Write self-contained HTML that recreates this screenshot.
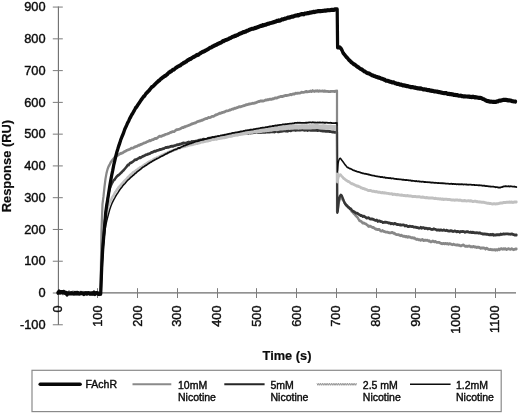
<!DOCTYPE html>
<html><head><meta charset="utf-8"><title>Chart</title>
<style>html,body{margin:0;padding:0;background:#fff}body{width:520px;height:415px;position:relative;overflow:hidden}svg text{font-family:"Liberation Sans",sans-serif}</style></head>
<body>
<svg width="520" height="415" viewBox="0 0 520 415" style="position:absolute;left:0;top:0">
<g stroke="#6c6c6c" stroke-width="1.1" fill="none">
<line x1="58.4" y1="6.5" x2="58.4" y2="325"/>
<line x1="57.8" y1="292.85" x2="516" y2="292.85"/>
</g>
<g stroke="#7c7c7c" stroke-width="1" fill="none">
<line x1="52.8" y1="324.77" x2="62.8" y2="324.77"/>
<line x1="52.8" y1="293.00" x2="62.8" y2="293.00"/>
<line x1="52.8" y1="261.23" x2="62.8" y2="261.23"/>
<line x1="52.8" y1="229.46" x2="62.8" y2="229.46"/>
<line x1="52.8" y1="197.69" x2="62.8" y2="197.69"/>
<line x1="52.8" y1="165.92" x2="62.8" y2="165.92"/>
<line x1="52.8" y1="134.15" x2="62.8" y2="134.15"/>
<line x1="52.8" y1="102.38" x2="62.8" y2="102.38"/>
<line x1="52.8" y1="70.61" x2="62.8" y2="70.61"/>
<line x1="52.8" y1="38.84" x2="62.8" y2="38.84"/>
<line x1="52.8" y1="7.07" x2="62.8" y2="7.07"/>
<line x1="97.50" y1="288.2" x2="97.50" y2="298"/>
<line x1="137.50" y1="288.2" x2="137.50" y2="298"/>
<line x1="177.50" y1="288.2" x2="177.50" y2="298"/>
<line x1="217.50" y1="288.2" x2="217.50" y2="298"/>
<line x1="256.50" y1="288.2" x2="256.50" y2="298"/>
<line x1="296.50" y1="288.2" x2="296.50" y2="298"/>
<line x1="336.50" y1="288.2" x2="336.50" y2="298"/>
<line x1="376.50" y1="288.2" x2="376.50" y2="298"/>
<line x1="415.50" y1="288.2" x2="415.50" y2="298"/>
<line x1="455.50" y1="288.2" x2="455.50" y2="298"/>
<line x1="495.50" y1="288.2" x2="495.50" y2="298"/>
</g>
<g font-size="12.8" fill="#0c0c0c" stroke="#0c0c0c" stroke-width="0.4">
<text x="45.6" y="329.0" text-anchor="end">-100</text>
<text x="45.6" y="297.2" text-anchor="end">0</text>
<text x="45.6" y="265.4" text-anchor="end">100</text>
<text x="45.6" y="233.7" text-anchor="end">200</text>
<text x="45.6" y="201.9" text-anchor="end">300</text>
<text x="45.6" y="170.1" text-anchor="end">400</text>
<text x="45.6" y="138.3" text-anchor="end">500</text>
<text x="45.6" y="106.6" text-anchor="end">600</text>
<text x="45.6" y="74.8" text-anchor="end">700</text>
<text x="45.6" y="43.0" text-anchor="end">800</text>
<text x="45.6" y="11.3" text-anchor="end">900</text>
<text transform="translate(62.1,305.4) rotate(-90)" text-anchor="end">0</text>
<text transform="translate(101.9,305.4) rotate(-90)" text-anchor="end">100</text>
<text transform="translate(141.7,305.4) rotate(-90)" text-anchor="end">200</text>
<text transform="translate(181.4,305.4) rotate(-90)" text-anchor="end">300</text>
<text transform="translate(221.2,305.4) rotate(-90)" text-anchor="end">400</text>
<text transform="translate(260.9,305.4) rotate(-90)" text-anchor="end">500</text>
<text transform="translate(300.6,305.4) rotate(-90)" text-anchor="end">600</text>
<text transform="translate(340.4,305.4) rotate(-90)" text-anchor="end">700</text>
<text transform="translate(380.1,305.4) rotate(-90)" text-anchor="end">800</text>
<text transform="translate(419.9,305.4) rotate(-90)" text-anchor="end">900</text>
<text transform="translate(459.6,305.4) rotate(-90)" text-anchor="end">1000</text>
<text transform="translate(499.4,305.4) rotate(-90)" text-anchor="end">1100</text>
</g>
<g font-weight="bold" fill="#0c0c0c" stroke="#0c0c0c" stroke-width="0.2">
<text x="287.0" y="360.0" font-size="12.8" text-anchor="middle">Time (s)</text>
<text transform="translate(10.7,166.1) rotate(-90)" font-size="12.9" text-anchor="middle">Response (RU)</text>
</g>
<g transform="scale(1,1.3)" fill="none" stroke-linejoin="round" stroke-linecap="round">
<path d="M58.0,225.08 L59.0,224.94 L60.0,225.42 L61.0,225.39 L62.0,224.85 L63.0,225.10 L64.0,225.10 L65.0,225.82 L66.0,226.16 L67.0,225.14 L68.0,225.19 L69.0,224.32 L70.0,225.29 L71.0,225.22 L72.0,224.82 L73.0,225.54 L74.0,224.65 L75.0,225.18 L76.0,225.33 L77.0,224.80 L78.0,225.62 L79.0,225.71 L80.0,224.78 L81.0,224.79 L82.0,225.57 L83.0,225.34 L84.0,224.89 L85.0,225.26 L86.0,225.34 L87.0,225.34 L88.0,225.72 L89.0,225.56 L90.0,226.10 L91.0,225.96 L92.0,225.71 L93.0,225.87 L94.0,225.98 L95.0,225.75 L96.0,225.02 L97.0,225.83 L98.0,225.54 L99.0,226.14 L100.0,225.57 L100.5,225.54 L100.5,225.62 L101.5,177.18 L102.5,156.85 L103.5,150.92 L104.5,143.64 L105.5,137.52 L106.5,133.30 L107.5,130.27 L108.5,128.21 L109.5,126.86 L110.5,125.19 L111.5,124.08 L112.5,123.01 L113.5,122.23 L114.5,121.16 L115.5,120.57 L116.5,120.09 L117.5,119.65 L118.5,119.08 L119.5,118.57 L120.5,118.10 L121.5,117.91 L122.5,117.65 L123.5,117.08 L124.5,116.66 L125.5,116.32 L126.5,115.73 L127.5,115.46 L128.5,115.11 L129.5,114.85 L130.5,114.46 L131.5,113.94 L132.5,113.96 L133.5,113.72 L134.5,113.10 L135.5,112.88 L136.5,112.54 L137.5,112.30 L138.5,111.63 L139.5,111.79 L140.5,111.15 L141.5,111.09 L142.5,110.59 L143.5,110.19 L144.5,109.91 L145.5,109.75 L146.5,109.17 L147.5,108.93 L148.5,108.60 L149.5,108.10 L150.5,108.25 L151.5,107.83 L152.5,107.44 L153.5,107.31 L154.5,106.68 L155.5,106.52 L156.5,106.49 L157.5,106.07 L158.5,105.28 L159.5,104.80 L160.5,104.86 L161.5,104.88 L162.5,104.34 L163.5,104.07 L164.5,103.90 L165.5,103.36 L166.5,103.22 L167.5,103.01 L168.5,102.65 L169.5,102.33 L170.5,101.87 L171.5,101.73 L172.5,101.27 L173.5,101.23 L174.5,101.11 L175.5,100.29 L176.5,99.76 L177.5,99.72 L178.5,99.53 L179.5,99.32 L180.5,99.01 L181.5,98.42 L182.5,98.11 L183.5,98.12 L184.5,97.45 L185.5,97.47 L186.5,96.97 L187.5,96.81 L188.5,96.50 L189.5,96.21 L190.5,95.92 L191.5,95.34 L192.5,95.24 L193.5,94.90 L194.5,94.65 L195.5,94.50 L196.5,93.98 L197.5,93.62 L198.5,93.33 L199.5,93.10 L200.5,92.98 L201.5,92.45 L202.5,92.47 L203.5,92.05 L204.5,91.69 L205.5,91.23 L206.5,91.19 L207.5,90.98 L208.5,90.31 L209.5,90.49 L210.5,90.27 L211.5,89.78 L212.5,89.52 L213.5,89.52 L214.5,89.05 L215.5,88.43 L216.5,88.28 L217.5,87.96 L218.5,87.67 L219.5,87.04 L220.5,87.24 L221.5,86.74 L222.5,86.58 L223.5,86.25 L224.5,86.13 L225.5,85.67 L226.5,85.33 L227.5,85.26 L228.5,85.14 L229.5,84.62 L230.5,84.62 L231.5,84.21 L232.5,83.84 L233.5,83.91 L234.5,83.31 L235.5,83.35 L236.5,82.89 L237.5,82.80 L238.5,82.31 L239.5,82.14 L240.5,82.21 L241.5,81.85 L242.5,81.61 L243.5,81.31 L244.5,81.23 L245.5,80.73 L246.5,80.56 L247.5,80.50 L248.5,80.18 L249.5,80.00 L250.5,79.89 L251.5,79.67 L252.5,79.46 L253.5,79.55 L254.5,79.25 L255.5,79.09 L256.5,78.71 L257.5,78.45 L258.5,78.11 L259.5,78.10 L260.5,77.65 L261.5,77.69 L262.5,77.72 L263.5,77.67 L264.5,77.40 L265.5,76.95 L266.5,76.98 L267.5,76.62 L268.5,76.69 L269.5,76.38 L270.5,76.35 L271.5,76.44 L272.5,76.01 L273.5,76.05 L274.5,75.54 L275.5,75.28 L276.5,75.36 L277.5,75.24 L278.5,74.71 L279.5,74.63 L280.5,74.22 L281.5,74.24 L282.5,74.23 L283.5,73.91 L284.5,73.67 L285.5,73.38 L286.5,73.49 L287.5,73.40 L288.5,73.20 L289.5,72.98 L290.5,72.58 L291.5,72.89 L292.5,72.45 L293.5,72.27 L294.5,72.26 L295.5,71.66 L296.5,71.84 L297.5,71.69 L298.5,71.64 L299.5,71.66 L300.5,71.41 L301.5,70.95 L302.5,71.07 L303.5,71.03 L304.5,70.91 L305.5,70.57 L306.5,70.40 L307.5,70.63 L308.5,70.50 L309.5,70.35 L310.5,70.00 L311.5,70.46 L312.5,69.67 L313.5,70.01 L314.5,70.35 L315.5,69.98 L316.5,70.04 L317.5,69.83 L318.5,70.23 L319.5,69.85 L320.5,70.11 L321.5,70.13 L322.5,69.98 L323.5,70.31 L324.5,70.00 L325.5,70.15 L326.5,70.28 L327.5,70.25 L328.5,70.42 L329.5,70.51 L330.5,70.33 L331.5,70.30 L332.5,70.29 L333.5,70.28 L334.5,70.41 L335.5,70.19 L336.5,70.15 L337.0,70.00 L337.0,163.08 L337.5,163.08 L338.5,157.02 L339.5,154.08 L340.5,152.21 L341.5,151.92 L342.5,153.45 L343.5,154.26 L344.5,155.99 L345.5,156.70 L346.5,157.87 L347.5,158.38 L348.5,159.42 L349.5,160.13 L350.5,161.16 L351.5,162.45 L352.5,163.01 L353.5,164.02 L354.5,164.77 L355.5,165.69 L356.5,166.52 L357.5,167.21 L358.5,168.60 L359.5,169.80 L360.5,170.13 L361.5,170.44 L362.5,171.55 L363.5,171.48 L364.5,171.89 L365.5,172.15 L366.5,172.62 L367.5,173.20 L368.5,174.18 L369.5,173.95 L370.5,174.08 L371.5,174.54 L372.5,174.97 L373.5,174.88 L374.5,175.69 L375.5,176.14 L376.5,176.32 L377.5,176.66 L378.5,176.42 L379.5,176.56 L380.5,177.60 L381.5,177.78 L382.5,177.28 L383.5,177.96 L384.5,178.11 L385.5,178.44 L386.5,178.54 L387.5,178.52 L388.5,178.89 L389.5,179.05 L390.5,179.17 L391.5,178.86 L392.5,178.73 L393.5,179.50 L394.5,179.46 L395.5,180.15 L396.5,180.45 L397.5,180.51 L398.5,180.52 L399.5,180.82 L400.5,181.29 L401.5,180.96 L402.5,181.58 L403.5,181.69 L404.5,181.75 L405.5,182.24 L406.5,181.83 L407.5,182.45 L408.5,182.11 L409.5,182.32 L410.5,182.41 L411.5,182.99 L412.5,182.78 L413.5,183.22 L414.5,183.07 L415.5,183.83 L416.5,184.19 L417.5,183.92 L418.5,184.45 L419.5,184.31 L420.5,184.89 L421.5,184.47 L422.5,184.16 L423.5,185.12 L424.5,184.82 L425.5,184.71 L426.5,184.94 L427.5,184.81 L428.5,185.34 L429.5,185.22 L430.5,186.04 L431.5,185.94 L432.5,185.44 L433.5,185.61 L434.5,185.98 L435.5,185.74 L436.5,186.34 L437.5,186.48 L438.5,186.40 L439.5,186.57 L440.5,186.97 L441.5,187.33 L442.5,187.46 L443.5,187.18 L444.5,187.51 L445.5,187.18 L446.5,187.60 L447.5,187.33 L448.5,187.89 L449.5,187.46 L450.5,187.64 L451.5,187.99 L452.5,188.24 L453.5,187.79 L454.5,188.13 L455.5,188.40 L456.5,188.51 L457.5,188.31 L458.5,188.64 L459.5,188.63 L460.5,189.16 L461.5,189.01 L462.5,188.59 L463.5,188.43 L464.5,189.13 L465.5,189.51 L466.5,189.32 L467.5,189.59 L468.5,189.30 L469.5,189.15 L470.5,189.80 L471.5,189.71 L472.5,189.96 L473.5,189.49 L474.5,190.00 L475.5,189.88 L476.5,190.37 L477.5,190.11 L478.5,190.22 L479.5,190.35 L480.5,190.98 L481.5,190.78 L482.5,190.70 L483.5,190.76 L484.5,190.89 L485.5,191.69 L486.5,190.93 L487.5,191.30 L488.5,191.81 L489.5,192.05 L490.5,191.77 L491.5,192.10 L492.5,192.14 L493.5,192.24 L494.5,192.01 L495.5,192.44 L496.5,192.03 L497.5,192.34 L498.5,191.58 L499.5,192.06 L500.5,191.40 L501.5,191.27 L502.5,191.75 L503.5,191.35 L504.5,191.67 L505.5,191.26 L506.5,191.98 L507.5,191.55 L508.5,191.24 L509.5,191.60 L510.5,191.79 L511.5,191.34 L512.5,191.69 L513.5,192.10 L514.5,191.78 L515.5,191.55 L516.5,191.54" stroke="#888888" stroke-width="2.23"/>
<path d="M58.0,225.15 L59.0,224.60 L60.0,224.03 L61.0,224.95 L62.0,224.80 L63.0,225.90 L64.0,225.29 L65.0,224.87 L66.0,224.82 L67.0,225.47 L68.0,224.97 L69.0,225.07 L70.0,225.27 L71.0,225.35 L72.0,225.37 L73.0,225.38 L74.0,225.85 L75.0,226.02 L76.0,224.74 L77.0,226.38 L78.0,225.45 L79.0,225.89 L80.0,225.13 L81.0,225.56 L82.0,225.52 L83.0,225.50 L84.0,225.79 L85.0,225.72 L86.0,225.10 L87.0,225.45 L88.0,225.79 L89.0,225.78 L90.0,225.40 L91.0,225.43 L92.0,225.49 L93.0,225.14 L94.0,225.08 L95.0,226.19 L96.0,225.44 L97.0,225.64 L98.0,225.33 L99.0,226.13 L100.0,226.31 L100.7,225.62 L100.7,225.62 L101.7,205.58 L102.7,190.08 L103.7,179.74 L104.7,171.02 L105.7,164.27 L106.7,158.03 L107.7,153.00 L108.7,148.79 L109.7,145.55 L110.7,143.31 L111.7,141.63 L112.7,140.02 L113.7,138.64 L114.7,138.07 L115.7,136.83 L116.7,135.92 L117.7,135.10 L118.7,134.58 L119.7,133.93 L120.7,133.14 L121.7,132.55 L122.7,131.48 L123.7,130.88 L124.7,129.99 L125.7,129.07 L126.7,128.13 L127.7,126.83 L128.7,126.90 L129.7,125.69 L130.7,125.33 L131.7,124.89 L132.7,124.42 L133.7,123.88 L134.7,122.98 L135.7,122.86 L136.7,122.76 L137.7,122.12 L138.7,121.72 L139.7,121.15 L140.7,121.31 L141.7,120.82 L142.7,120.23 L143.7,119.98 L144.7,119.63 L145.7,119.12 L146.7,118.90 L147.7,118.64 L148.7,118.36 L149.7,118.14 L150.7,117.64 L151.7,117.26 L152.7,117.10 L153.7,116.65 L154.7,116.28 L155.7,116.38 L156.7,115.88 L157.7,115.70 L158.7,115.53 L159.7,115.01 L160.7,115.03 L161.7,114.76 L162.7,114.44 L163.7,114.29 L164.7,113.88 L165.7,113.43 L166.7,113.51 L167.7,113.19 L168.7,113.26 L169.7,112.95 L170.7,112.62 L171.7,112.51 L172.7,112.51 L173.7,112.28 L174.7,111.97 L175.7,111.79 L176.7,111.49 L177.7,111.32 L178.7,111.25 L179.7,110.96 L180.7,110.85 L181.7,110.45 L182.7,110.20 L183.7,110.03 L184.7,110.06 L185.7,110.17 L186.7,109.99 L187.7,109.50 L188.7,109.26 L189.7,109.47 L190.7,109.27 L191.7,108.84 L192.7,109.06 L193.7,108.78 L194.7,108.81 L195.7,108.52 L196.7,108.46 L197.7,108.23 L198.7,107.89 L199.7,107.86 L200.7,107.64 L201.7,107.73 L202.7,107.30 L203.7,107.08 L204.7,107.27 L205.7,107.20 L206.7,107.10 L207.7,106.90 L208.7,106.35 L209.7,106.34 L210.7,106.22 L211.7,106.16 L212.7,105.69 L213.7,105.88 L214.7,105.79 L215.7,105.46 L216.7,105.49 L217.7,105.53 L218.7,105.22 L219.7,105.25 L220.7,105.12 L221.7,104.91 L222.7,104.78 L223.7,104.55 L224.7,104.69 L225.7,104.31 L226.7,104.17 L227.7,104.27 L228.7,103.94 L229.7,104.01 L230.7,103.99 L231.7,103.73 L232.7,103.63 L233.7,103.64 L234.7,103.51 L235.7,103.05 L236.7,102.99 L237.7,103.29 L238.7,103.05 L239.7,102.57 L240.7,102.60 L241.7,102.72 L242.7,102.48 L243.7,102.62 L244.7,102.49 L245.7,102.48 L246.7,102.16 L247.7,102.37 L248.7,102.52 L249.7,102.05 L250.7,102.33 L251.7,102.24 L252.7,102.15 L253.7,102.00 L254.7,101.80 L255.7,101.82 L256.7,102.04 L257.7,102.05 L258.7,102.05 L259.7,101.99 L260.7,101.95 L261.7,101.71 L262.7,101.57 L263.7,101.76 L264.7,101.77 L265.7,101.68 L266.7,101.41 L267.7,101.54 L268.7,101.36 L269.7,101.58 L270.7,101.35 L271.7,101.45 L272.7,101.48 L273.7,101.41 L274.7,101.55 L275.7,101.11 L276.7,100.89 L277.7,101.32 L278.7,101.34 L279.7,101.28 L280.7,101.05 L281.7,101.03 L282.7,100.91 L283.7,100.64 L284.7,100.70 L285.7,100.81 L286.7,100.59 L287.7,100.91 L288.7,100.31 L289.7,100.41 L290.7,100.58 L291.7,100.25 L292.7,100.11 L293.7,100.01 L294.7,100.05 L295.7,100.35 L296.7,100.13 L297.7,100.12 L298.7,99.94 L299.7,100.14 L300.7,100.02 L301.7,99.87 L302.7,99.94 L303.7,100.05 L304.7,100.21 L305.7,100.03 L306.7,100.13 L307.7,100.38 L308.7,99.96 L309.7,99.91 L310.7,100.27 L311.7,100.21 L312.7,100.15 L313.7,100.22 L314.7,100.15 L315.7,100.31 L316.7,100.21 L317.7,100.42 L318.7,100.18 L319.7,100.30 L320.7,100.52 L321.7,100.51 L322.7,100.78 L323.7,100.76 L324.7,100.78 L325.7,100.99 L326.7,100.97 L327.7,100.90 L328.7,101.04 L329.7,101.16 L330.7,101.28 L331.7,101.41 L332.7,101.57 L333.7,101.55 L334.7,101.77 L335.7,101.72 L336.5,101.54 L337.0,101.54 L337.3,163.46 L337.8,162.31 L338.8,154.14 L339.8,151.12 L340.8,149.98 L341.8,150.56 L342.8,152.38 L343.8,154.57 L344.8,156.37 L345.8,157.57 L346.8,158.21 L347.8,159.10 L348.8,159.57 L349.8,160.42 L350.8,160.51 L351.8,161.59 L352.8,162.39 L353.8,162.80 L354.8,163.19 L355.8,163.81 L356.8,163.95 L357.8,164.36 L358.8,164.86 L359.8,165.28 L360.8,165.90 L361.8,165.81 L362.8,166.57 L363.8,166.29 L364.8,166.77 L365.8,167.23 L366.8,167.78 L367.8,167.62 L368.8,167.51 L369.8,168.33 L370.8,168.45 L371.8,168.41 L372.8,168.63 L373.8,168.91 L374.8,169.28 L375.8,169.60 L376.8,169.28 L377.8,170.33 L378.8,169.96 L379.8,170.05 L380.8,170.46 L381.8,170.48 L382.8,171.15 L383.8,171.02 L384.8,170.83 L385.8,170.97 L386.8,171.09 L387.8,171.26 L388.8,171.64 L389.8,171.47 L390.8,172.13 L391.8,171.87 L392.8,171.99 L393.8,172.38 L394.8,171.83 L395.8,172.21 L396.8,172.69 L397.8,172.69 L398.8,172.81 L399.8,173.03 L400.8,172.93 L401.8,173.15 L402.8,173.00 L403.8,173.00 L404.8,173.84 L405.8,173.45 L406.8,173.62 L407.8,174.22 L408.8,174.25 L409.8,174.00 L410.8,174.11 L411.8,174.32 L412.8,174.22 L413.8,174.68 L414.8,174.69 L415.8,174.78 L416.8,175.03 L417.8,175.12 L418.8,175.47 L419.8,175.49 L420.8,174.84 L421.8,175.54 L422.8,175.16 L423.8,175.18 L424.8,175.77 L425.8,175.53 L426.8,175.71 L427.8,176.11 L428.8,175.80 L429.8,175.83 L430.8,176.20 L431.8,176.49 L432.8,176.41 L433.8,176.01 L434.8,176.30 L435.8,176.49 L436.8,177.05 L437.8,176.89 L438.8,176.96 L439.8,177.11 L440.8,176.84 L441.8,177.09 L442.8,177.17 L443.8,176.90 L444.8,177.19 L445.8,177.40 L446.8,177.09 L447.8,177.59 L448.8,177.64 L449.8,177.77 L450.8,177.42 L451.8,177.68 L452.8,178.05 L453.8,177.96 L454.8,177.65 L455.8,177.94 L456.8,178.27 L457.8,177.97 L458.8,178.13 L459.8,178.68 L460.8,178.13 L461.8,178.16 L462.8,178.01 L463.8,178.14 L464.8,178.68 L465.8,178.36 L466.8,178.17 L467.8,178.28 L468.8,178.55 L469.8,178.78 L470.8,178.49 L471.8,178.89 L472.8,178.67 L473.8,178.93 L474.8,179.04 L475.8,179.13 L476.8,178.98 L477.8,179.13 L478.8,179.39 L479.8,179.09 L480.8,179.55 L481.8,179.75 L482.8,179.99 L483.8,179.87 L484.8,179.96 L485.8,180.15 L486.8,180.06 L487.8,180.29 L488.8,180.54 L489.8,180.60 L490.8,180.37 L491.8,180.60 L492.8,180.23 L493.8,180.94 L494.8,180.65 L495.8,180.81 L496.8,180.45 L497.8,180.60 L498.8,180.62 L499.8,180.63 L500.8,179.98 L501.8,180.38 L502.8,180.05 L503.8,179.85 L504.8,180.11 L505.8,179.93 L506.8,179.94 L507.8,179.87 L508.8,180.12 L509.8,180.13 L510.8,180.14 L511.8,180.03 L512.8,180.21 L513.8,180.52 L514.8,180.84 L515.8,180.66 L516.5,180.77" stroke="#363636" stroke-width="2.23"/>
<path d="M215.8,106.90 L216.8,106.77 L217.8,106.45 L218.8,106.24 L219.8,106.27 L220.8,105.90 L221.8,106.01 L222.8,105.66 L223.8,105.61 L224.8,105.64 L225.8,105.48 L226.8,105.07 L227.8,105.07 L228.8,104.67 L229.8,104.57 L230.8,104.52 L231.8,104.48 L232.8,104.10 L233.8,104.08 L234.8,103.88 L235.8,103.57 L236.8,103.55 L237.8,103.59 L238.8,103.26 L239.8,103.18 L240.8,103.07 L241.8,102.75 L242.8,102.83 L243.8,102.72 L244.8,102.59 L245.8,102.42 L246.8,102.08 L247.8,101.93 L248.8,101.77 L249.8,101.62 L250.8,101.50 L251.8,101.57 L252.8,101.49 L253.8,101.11 L254.8,101.14 L255.8,100.77 L256.8,100.74 L257.8,100.53 L258.8,100.33 L259.8,100.40 L260.8,100.27 L261.8,100.09 L262.8,99.95 L263.8,99.78 L264.8,99.76 L265.8,99.60 L266.8,99.58 L267.8,99.31 L268.8,99.37 L269.8,99.31 L270.8,99.30 L271.8,99.19 L272.8,99.00 L273.8,98.81 L274.8,98.59 L275.8,98.72 L276.8,98.81 L277.8,98.76 L278.8,98.20 L279.8,98.33 L280.8,98.30 L281.8,98.16 L282.8,98.23 L283.8,98.15 L284.8,98.03 L285.8,98.03 L286.8,97.79 L287.8,97.80 L288.8,97.75 L289.8,97.89 L290.8,97.55 L291.8,97.65 L292.8,97.71 L293.8,97.57 L294.8,97.62 L295.8,97.41 L296.8,97.50 L297.8,97.53 L298.8,97.66 L299.8,97.47 L300.8,97.54 L301.8,97.37 L302.8,97.37 L303.8,97.54 L304.8,97.42 L305.8,97.51 L306.8,97.42 L307.8,97.58 L308.8,97.60 L309.8,97.23 L310.8,97.53 L311.8,97.37 L312.8,97.37 L313.8,97.30 L314.8,97.39 L315.8,97.18 L316.8,97.23 L317.8,97.24 L318.8,97.38 L319.8,97.47 L320.8,97.48 L321.8,97.48 L322.8,97.41 L323.8,97.31 L324.8,97.61 L325.8,97.62 L326.8,97.69 L327.8,97.86 L328.8,97.72 L329.8,97.76 L330.8,97.55 L331.8,97.92 L332.8,97.88 L333.8,97.83 L334.8,98.00 L335.8,97.86 L336.5,98.00" stroke="#c0c0c0" stroke-width="2.77" stroke-linecap="butt"/>
<path d="M255.8,100.92 L256.8,100.90 L257.8,100.69 L258.8,100.48 L259.8,100.55 L260.8,100.42 L261.8,100.24 L262.8,100.11 L263.8,99.94 L264.8,99.92 L265.8,99.75 L266.8,99.74 L267.8,99.46 L268.8,99.53 L269.8,99.46 L270.8,99.45 L271.8,99.34 L272.8,99.15 L273.8,98.97 L274.8,98.75 L275.8,98.88 L276.8,98.96 L277.8,98.91 L278.8,98.35 L279.8,98.48 L280.8,98.46 L281.8,98.31 L282.8,98.39 L283.8,98.31 L284.8,98.18 L285.8,98.18 L286.8,97.94 L287.8,97.95 L288.8,97.90 L289.8,98.05 L290.8,97.70 L291.8,97.81 L292.8,97.87 L293.8,97.72 L294.8,97.78 L295.8,97.57 L296.8,97.66 L297.8,97.68 L298.8,97.81 L299.8,97.63 L300.8,97.70 L301.8,97.53 L302.8,97.53 L303.8,97.69 L304.8,97.57 L305.8,97.66 L306.8,97.57 L307.8,97.73 L308.8,97.75 L309.8,97.38 L310.8,97.69 L311.8,97.52 L312.8,97.52 L313.8,97.45 L314.8,97.55 L315.8,97.34 L316.8,97.38 L317.8,97.39 L318.8,97.53 L319.8,97.63 L320.8,97.64 L321.8,97.63 L322.8,97.56 L323.8,97.47 L324.8,97.76 L325.8,97.78 L326.8,97.85 L327.8,98.02 L328.8,97.88 L329.8,97.91 L330.8,97.71 L331.8,98.07 L332.8,98.04 L333.8,97.99 L334.8,98.15 L335.8,98.02 L336.5,98.15" stroke="#c0c0c0" stroke-width="3.85" stroke-linecap="butt"/>
<path d="M58.0,225.08 L59.0,224.66 L60.0,225.33 L61.0,224.73 L62.0,225.27 L63.0,225.53 L64.0,225.02 L65.0,225.11 L66.0,226.10 L67.0,225.26 L68.0,225.28 L69.0,225.49 L70.0,225.16 L71.0,225.18 L72.0,225.37 L73.0,224.31 L74.0,225.79 L75.0,224.84 L76.0,224.85 L77.0,225.48 L78.0,225.30 L79.0,224.82 L80.0,225.39 L81.0,224.88 L82.0,225.06 L83.0,224.76 L84.0,225.03 L85.0,225.51 L86.0,225.42 L87.0,225.50 L88.0,225.75 L89.0,225.39 L90.0,225.16 L91.0,225.32 L92.0,226.07 L93.0,225.46 L94.0,225.58 L95.0,225.43 L96.0,225.57 L97.0,225.66 L98.0,225.50 L99.0,225.45 L100.0,225.22 L100.8,225.54 L100.8,225.62 L101.8,206.76 L102.8,192.41 L103.8,182.38 L104.8,174.75 L105.8,168.80 L106.8,164.24 L107.8,160.38 L108.8,157.77 L109.8,155.64 L110.8,154.17 L111.8,152.48 L112.8,151.08 L113.8,149.95 L114.8,148.35 L115.8,147.24 L116.8,146.07 L117.8,145.04 L118.8,143.95 L119.8,143.20 L120.8,142.44 L121.8,141.51 L122.8,140.66 L123.8,139.73 L124.8,139.11 L125.8,138.18 L126.8,137.43 L127.8,136.34 L128.8,135.79 L129.8,134.88 L130.8,134.33 L131.8,133.64 L132.8,132.85 L133.8,132.40 L134.8,131.93 L135.8,131.30 L136.8,130.78 L137.8,130.10 L138.8,129.61 L139.8,129.05 L140.8,128.69 L141.8,128.31 L142.8,127.72 L143.8,127.17 L144.8,126.55 L145.8,126.25 L146.8,125.69 L147.8,125.03 L148.8,124.58 L149.8,124.29 L150.8,123.78 L151.8,123.63 L152.8,123.02 L153.8,122.48 L154.8,122.14 L155.8,121.98 L156.8,121.30 L157.8,121.11 L158.8,120.68 L159.8,120.42 L160.8,119.93 L161.8,119.45 L162.8,119.18 L163.8,118.76 L164.8,118.51 L165.8,118.03 L166.8,117.91 L167.8,117.33 L168.8,117.05 L169.8,116.59 L170.8,116.36 L171.8,116.03 L172.8,115.73 L173.8,115.51 L174.8,115.05 L175.8,114.72 L176.8,114.66 L177.8,114.23 L178.8,113.92 L179.8,113.88 L180.8,113.59 L181.8,112.96 L182.8,112.98 L183.8,112.89 L184.8,112.68 L185.8,112.32 L186.8,112.35 L187.8,111.88 L188.8,111.74 L189.8,111.59 L190.8,111.38 L191.8,111.29 L192.8,111.13 L193.8,110.82 L194.8,110.81 L195.8,110.38 L196.8,110.26 L197.8,110.30 L198.8,109.93 L199.8,109.85 L200.8,109.50 L201.8,109.33 L202.8,109.17 L203.8,109.02 L204.8,108.78 L205.8,108.64 L206.8,108.54 L207.8,108.42 L208.8,108.12 L209.8,108.00 L210.8,107.86 L211.8,107.46 L212.8,107.23 L213.8,107.42 L214.8,107.22 L215.8,106.90 L216.8,106.77 L217.8,106.45 L218.8,106.24 L219.8,106.27 L220.8,105.90 L221.8,106.01 L222.8,105.66 L223.8,105.61 L224.8,105.64 L225.8,105.48 L226.8,105.07 L227.8,105.07 L228.8,104.67 L229.8,104.57 L230.8,104.52 L231.8,104.48 L232.8,104.10 L233.8,104.08 L234.8,103.88 L235.8,103.57 L236.8,103.55 L237.8,103.59 L238.8,103.26 L239.8,103.18 L240.8,103.07 L241.8,102.75 L242.8,102.83 L243.8,102.72 L244.8,102.59 L245.8,102.42 L246.8,102.08 L247.8,101.93 L248.8,101.77 L249.8,101.62 L250.8,101.50 L251.8,101.57 L252.8,101.49 L253.8,101.11 L254.8,101.14 L255.8,100.77 L256.8,100.74 L257.8,100.53 L258.8,100.33 L259.8,100.40 L260.8,100.27 L261.8,100.09 L262.8,99.95 L263.8,99.78 L264.8,99.76 L265.8,99.60 L266.8,99.58 L267.8,99.31 L268.8,99.37 L269.8,99.31 L270.8,99.30 L271.8,99.19 L272.8,99.00 L273.8,98.81 L274.8,98.59 L275.8,98.72 L276.8,98.81 L277.8,98.76 L278.8,98.20 L279.8,98.33 L280.8,98.30 L281.8,98.16 L282.8,98.23 L283.8,98.15 L284.8,98.03 L285.8,98.03 L286.8,97.79 L287.8,97.80 L288.8,97.75 L289.8,97.89 L290.8,97.55 L291.8,97.65 L292.8,97.71 L293.8,97.57 L294.8,97.62 L295.8,97.41 L296.8,97.50 L297.8,97.53 L298.8,97.66 L299.8,97.47 L300.8,97.54 L301.8,97.37 L302.8,97.37 L303.8,97.54 L304.8,97.42 L305.8,97.51 L306.8,97.42 L307.8,97.58 L308.8,97.60 L309.8,97.23 L310.8,97.53 L311.8,97.37 L312.8,97.37 L313.8,97.30 L314.8,97.39 L315.8,97.18 L316.8,97.23 L317.8,97.24 L318.8,97.38 L319.8,97.47 L320.8,97.48 L321.8,97.48 L322.8,97.41 L323.8,97.31 L324.8,97.61 L325.8,97.62 L326.8,97.69 L327.8,97.86 L328.8,97.72 L329.8,97.76 L330.8,97.55 L331.8,97.92 L332.8,97.88 L333.8,97.83 L334.8,98.00 L335.8,97.86 L336.5,98.00 L337.0,98.08 L337.2,140.00 L337.6,139.23 L338.6,135.86 L339.6,134.61 L340.6,134.46 L341.6,135.46 L342.6,136.26 L343.6,137.25 L344.6,137.66 L345.6,138.38 L346.6,138.85 L347.6,139.37 L348.6,139.62 L349.6,140.12 L350.6,140.91 L351.6,141.27 L352.6,141.40 L353.6,141.80 L354.6,142.24 L355.6,142.41 L356.6,143.08 L357.6,143.10 L358.6,143.47 L359.6,143.56 L360.6,144.36 L361.6,144.50 L362.6,144.98 L363.6,144.96 L364.6,145.39 L365.6,145.62 L366.6,145.86 L367.6,146.28 L368.6,146.50 L369.6,146.58 L370.6,146.55 L371.6,146.87 L372.6,147.08 L373.6,147.14 L374.6,147.29 L375.6,147.42 L376.6,147.40 L377.6,147.67 L378.6,147.95 L379.6,147.78 L380.6,148.04 L381.6,148.25 L382.6,148.12 L383.6,148.38 L384.6,148.32 L385.6,148.55 L386.6,148.57 L387.6,148.74 L388.6,148.89 L389.6,149.02 L390.6,149.13 L391.6,148.97 L392.6,149.53 L393.6,149.41 L394.6,149.41 L395.6,149.55 L396.6,149.75 L397.6,149.68 L398.6,149.83 L399.6,149.91 L400.6,150.10 L401.6,150.03 L402.6,150.25 L403.6,150.32 L404.6,150.34 L405.6,150.57 L406.6,150.51 L407.6,150.45 L408.6,150.69 L409.6,150.75 L410.6,150.81 L411.6,150.92 L412.6,151.25 L413.6,151.08 L414.6,151.19 L415.6,151.18 L416.6,151.44 L417.6,151.36 L418.6,151.36 L419.6,151.39 L420.6,151.66 L421.6,151.77 L422.6,151.57 L423.6,151.75 L424.6,151.98 L425.6,152.10 L426.6,151.90 L427.6,152.08 L428.6,152.30 L429.6,152.21 L430.6,152.29 L431.6,152.35 L432.6,152.33 L433.6,152.56 L434.6,152.66 L435.6,152.53 L436.6,152.77 L437.6,152.96 L438.6,152.92 L439.6,153.07 L440.6,152.97 L441.6,153.25 L442.6,153.07 L443.6,153.44 L444.6,153.23 L445.6,153.27 L446.6,153.31 L447.6,153.42 L448.6,153.48 L449.6,153.51 L450.6,153.61 L451.6,153.78 L452.6,153.86 L453.6,153.77 L454.6,154.01 L455.6,153.80 L456.6,153.84 L457.6,153.88 L458.6,154.13 L459.6,153.93 L460.6,153.99 L461.6,154.35 L462.6,154.44 L463.6,154.45 L464.6,154.17 L465.6,154.39 L466.6,154.53 L467.6,154.50 L468.6,154.35 L469.6,154.56 L470.6,154.45 L471.6,154.57 L472.6,155.02 L473.6,154.91 L474.6,154.73 L475.6,154.79 L476.6,155.10 L477.6,155.07 L478.6,155.31 L479.6,155.28 L480.6,155.45 L481.6,155.62 L482.6,155.60 L483.6,155.62 L484.6,155.83 L485.6,156.01 L486.6,156.18 L487.6,156.31 L488.6,156.41 L489.6,156.57 L490.6,156.49 L491.6,156.82 L492.6,156.94 L493.6,156.79 L494.6,156.79 L495.6,156.90 L496.6,156.78 L497.6,156.65 L498.6,156.49 L499.6,156.30 L500.6,156.11 L501.6,156.19 L502.6,156.12 L503.6,155.75 L504.6,155.78 L505.6,155.76 L506.6,155.64 L507.6,155.55 L508.6,155.55 L509.6,155.32 L510.6,155.50 L511.6,155.44 L512.6,155.69 L513.6,155.52 L514.6,155.36 L515.6,155.39 L516.5,155.38" stroke="#c0c0c0" stroke-width="2.31"/>
<path d="M58.0,225.15 L59.0,225.23 L60.0,225.12 L61.0,224.62 L62.0,225.06 L63.0,225.14 L64.0,224.93 L65.0,225.89 L66.0,224.51 L67.0,225.19 L68.0,225.41 L69.0,225.43 L70.0,225.92 L71.0,224.75 L72.0,225.01 L73.0,225.35 L74.0,225.37 L75.0,225.18 L76.0,225.05 L77.0,225.76 L78.0,224.96 L79.0,225.15 L80.0,225.94 L81.0,226.06 L82.0,225.74 L83.0,225.09 L84.0,225.10 L85.0,225.09 L86.0,225.01 L87.0,225.30 L88.0,225.96 L89.0,225.57 L90.0,225.20 L91.0,225.20 L92.0,225.06 L93.0,225.99 L94.0,224.76 L95.0,225.65 L96.0,225.00 L97.0,225.16 L98.0,225.00 L99.0,225.96 L100.0,225.56 L100.9,225.62 L100.9,225.62 L101.9,206.89 L102.9,193.40 L103.9,184.44 L104.9,177.87 L105.9,172.92 L106.9,169.53 L107.9,166.49 L108.9,163.60 L109.9,160.78 L110.9,158.59 L111.9,156.60 L112.9,154.98 L113.9,153.43 L114.9,152.15 L115.9,150.67 L116.9,149.40 L117.9,148.30 L118.9,147.04 L119.9,145.89 L120.9,144.80 L121.9,143.89 L122.9,142.77 L123.9,141.96 L124.9,141.24 L125.9,140.25 L126.9,139.35 L127.9,138.54 L128.9,137.93 L129.9,137.08 L130.9,136.34 L131.9,135.73 L132.9,135.02 L133.9,134.52 L134.9,133.62 L135.9,133.22 L136.9,132.33 L137.9,131.76 L138.9,131.18 L139.9,130.53 L140.9,130.01 L141.9,129.29 L142.9,128.62 L143.9,128.27 L144.9,127.60 L145.9,127.18 L146.9,126.81 L147.9,126.20 L148.9,125.68 L149.9,125.14 L150.9,124.75 L151.9,124.29 L152.9,123.70 L153.9,123.43 L154.9,122.86 L155.9,122.54 L156.9,122.05 L157.9,121.76 L158.9,121.32 L159.9,120.83 L160.9,120.40 L161.9,120.05 L162.9,119.73 L163.9,119.30 L164.9,118.82 L165.9,118.45 L166.9,118.18 L167.9,117.50 L168.9,117.33 L169.9,116.83 L170.9,116.67 L171.9,116.14 L172.9,115.82 L173.9,115.38 L174.9,115.14 L175.9,114.87 L176.9,114.62 L177.9,114.02 L178.9,113.77 L179.9,113.85 L180.9,113.26 L181.9,112.87 L182.9,112.61 L183.9,112.01 L184.9,112.10 L185.9,111.67 L186.9,111.23 L187.9,111.19 L188.9,110.74 L189.9,110.42 L190.9,110.29 L191.9,110.01 L192.9,109.67 L193.9,109.44 L194.9,109.07 L195.9,108.82 L196.9,108.79 L197.9,108.59 L198.9,108.28 L199.9,108.06 L200.9,107.77 L201.9,107.59 L202.9,107.31 L203.9,107.36 L204.9,106.95 L205.9,106.86 L206.9,106.64 L207.9,106.33 L208.9,106.46 L209.9,106.07 L210.9,105.86 L211.9,105.77 L212.9,105.51 L213.9,105.42 L214.9,105.16 L215.9,105.13 L216.9,104.91 L217.9,104.61 L218.9,104.67 L219.9,104.42 L220.9,104.14 L221.9,104.11 L222.9,103.96 L223.9,103.93 L224.9,103.52 L225.9,103.52 L226.9,103.27 L227.9,103.18 L228.9,102.95 L229.9,102.81 L230.9,102.71 L231.9,102.40 L232.9,102.16 L233.9,102.20 L234.9,102.01 L235.9,101.90 L236.9,101.80 L237.9,101.57 L238.9,101.55 L239.9,101.29 L240.9,101.16 L241.9,101.08 L242.9,100.91 L243.9,100.70 L244.9,100.57 L245.9,100.35 L246.9,100.22 L247.9,100.15 L248.9,100.08 L249.9,99.82 L250.9,99.80 L251.9,99.77 L252.9,99.66 L253.9,99.33 L254.9,99.29 L255.9,99.12 L256.9,99.01 L257.9,98.89 L258.9,98.73 L259.9,98.63 L260.9,98.45 L261.9,98.28 L262.9,98.20 L263.9,98.10 L264.9,98.05 L265.9,97.84 L266.9,97.76 L267.9,97.70 L268.9,97.36 L269.9,97.30 L270.9,97.25 L271.9,97.08 L272.9,96.86 L273.9,96.92 L274.9,96.70 L275.9,96.49 L276.9,96.64 L277.9,96.22 L278.9,96.22 L279.9,96.04 L280.9,96.00 L281.9,95.94 L282.9,95.70 L283.9,95.67 L284.9,95.58 L285.9,95.41 L286.9,95.52 L287.9,95.34 L288.9,95.21 L289.9,95.09 L290.9,95.03 L291.9,94.99 L292.9,94.86 L293.9,94.94 L294.9,94.52 L295.9,94.49 L296.9,94.60 L297.9,94.40 L298.9,94.52 L299.9,94.43 L300.9,94.52 L301.9,94.48 L302.9,94.54 L303.9,94.48 L304.9,94.49 L305.9,94.40 L306.9,94.43 L307.9,94.36 L308.9,94.24 L309.9,94.16 L310.9,94.16 L311.9,94.30 L312.9,94.03 L313.9,94.26 L314.9,94.17 L315.9,94.30 L316.9,94.26 L317.9,94.17 L318.9,94.25 L319.9,94.05 L320.9,94.31 L321.9,94.34 L322.9,94.15 L323.9,94.42 L324.9,94.36 L325.9,94.41 L326.9,94.29 L327.9,94.50 L328.9,94.53 L329.9,94.50 L330.9,94.43 L331.9,94.62 L332.9,94.69 L333.9,94.65 L334.9,94.74 L335.9,94.62 L336.5,94.69 L337.0,94.62 L337.2,132.31 L337.6,130.77 L338.1,126.04 L338.6,123.85 L339.1,122.76 L339.6,122.08 L340.1,121.92 L340.6,121.91 L341.1,122.47 L341.6,123.09 L342.1,123.53 L342.6,124.03 L343.1,124.50 L343.6,125.11 L344.1,125.58 L344.6,126.28 L345.1,126.70 L345.6,127.15 L346.1,127.57 L346.6,128.25 L347.1,128.50 L347.6,128.71 L348.1,128.94 L348.6,129.17 L349.1,129.33 L349.6,129.71 L350.1,129.77 L350.6,129.82 L351.1,130.04 L351.6,130.06 L352.1,130.46 L352.6,130.63 L353.1,130.86 L353.6,131.05 L354.1,130.98 L354.6,131.23 L355.1,131.42 L355.6,131.55 L356.1,131.60 L356.6,131.83 L357.1,131.95 L357.6,132.14 L358.1,132.16 L358.6,132.27 L359.1,132.37 L359.6,132.50 L360.1,132.59 L360.6,132.73 L361.1,132.91 L361.6,133.01 L362.1,133.18 L362.6,133.27 L363.1,133.33 L363.6,133.29 L364.1,133.52 L364.6,133.66 L365.1,133.56 L365.6,133.67 L366.1,133.77 L366.6,133.85 L367.1,134.00 L367.6,134.04 L368.1,134.23 L368.6,134.19 L369.1,134.36 L369.6,134.42 L370.1,134.47 L370.6,134.71 L371.1,134.71 L371.6,134.84 L372.1,134.85 L372.6,135.01 L373.1,135.09 L373.6,135.11 L374.1,135.06 L374.6,135.34 L375.1,135.41 L375.6,135.44 L376.1,135.52 L376.6,135.59 L377.1,135.66 L377.6,135.64 L378.1,135.78 L378.6,135.88 L379.1,135.87 L379.6,135.91 L380.1,136.19 L380.6,136.15 L381.1,136.14 L381.6,136.18 L382.1,136.07 L382.6,136.22 L383.1,136.37 L383.6,136.54 L384.1,136.33 L384.6,136.48 L385.1,136.74 L385.6,136.69 L386.1,136.72 L386.6,136.82 L387.1,136.77 L387.6,136.81 L388.1,136.93 L388.6,136.98 L389.1,136.88 L389.6,137.12 L390.1,136.92 L390.6,137.04 L391.1,137.38 L391.6,137.15 L392.1,137.28 L392.6,137.20 L393.1,137.30 L393.6,137.32 L394.1,137.39 L394.6,137.51 L395.1,137.65 L395.6,137.63 L396.1,137.72 L396.6,137.61 L397.1,137.81 L397.6,137.79 L398.1,137.90 L398.6,137.81 L399.1,137.87 L399.6,138.04 L400.1,138.02 L400.6,138.03 L401.1,138.02 L401.6,138.11 L402.1,138.20 L402.6,138.26 L403.1,138.21 L403.6,138.27 L404.1,138.37 L404.6,138.30 L405.1,138.50 L405.6,138.47 L406.1,138.51 L406.6,138.37 L407.1,138.48 L407.6,138.56 L408.1,138.64 L408.6,138.64 L409.1,138.80 L409.6,138.82 L410.1,138.83 L410.6,138.74 L411.1,139.04 L411.6,138.96 L412.1,139.07 L412.6,139.01 L413.1,139.10 L413.6,139.20 L414.1,139.20 L414.6,139.30 L415.1,139.25 L415.6,139.46 L416.1,139.20 L416.6,139.34 L417.1,139.50 L417.6,139.44 L418.1,139.47 L418.6,139.40 L419.1,139.67 L419.6,139.47 L420.1,139.69 L420.6,139.71 L421.1,139.80 L421.6,139.88 L422.1,139.75 L422.6,139.77 L423.1,139.85 L423.6,139.77 L424.1,140.00 L424.6,139.94 L425.1,140.02 L425.6,139.95 L426.1,140.07 L426.6,140.05 L427.1,140.13 L427.6,140.08 L428.1,140.28 L428.6,140.18 L429.1,140.06 L429.6,140.34 L430.1,140.30 L430.6,140.28 L431.1,140.57 L431.6,140.41 L432.1,140.34 L432.6,140.42 L433.1,140.53 L433.6,140.51 L434.1,140.66 L434.6,140.67 L435.1,140.56 L435.6,140.65 L436.1,140.73 L436.6,140.67 L437.1,140.70 L437.6,140.83 L438.1,140.82 L438.6,140.71 L439.1,140.80 L439.6,140.84 L440.1,140.89 L440.6,140.87 L441.1,141.05 L441.6,140.90 L442.1,140.92 L442.6,141.04 L443.1,140.88 L443.6,141.00 L444.1,141.15 L444.6,141.03 L445.1,141.09 L445.6,141.26 L446.1,141.24 L446.6,141.23 L447.1,141.27 L447.6,141.22 L448.1,141.32 L448.6,141.30 L449.1,141.53 L449.6,141.41 L450.1,141.36 L450.6,141.40 L451.1,141.43 L451.6,141.34 L452.1,141.41 L452.6,141.61 L453.1,141.40 L453.6,141.48 L454.1,141.63 L454.6,141.68 L455.1,141.50 L455.6,141.71 L456.1,141.59 L456.6,141.76 L457.1,141.69 L457.6,141.65 L458.1,141.74 L458.6,141.74 L459.1,141.66 L459.6,141.90 L460.1,141.72 L460.6,141.85 L461.1,141.74 L461.6,141.66 L462.1,141.73 L462.6,141.82 L463.1,141.90 L463.6,142.00 L464.1,141.88 L464.6,141.87 L465.1,141.81 L465.6,141.92 L466.1,141.97 L466.6,141.79 L467.1,142.08 L467.6,142.08 L468.1,142.19 L468.6,141.96 L469.1,142.05 L469.6,142.07 L470.1,141.99 L470.6,142.04 L471.1,142.05 L471.6,142.19 L472.1,142.20 L472.6,142.30 L473.1,142.18 L473.6,142.13 L474.1,142.30 L474.6,142.31 L475.1,142.36 L475.6,142.43 L476.1,142.32 L476.6,142.45 L477.1,142.35 L477.6,142.47 L478.1,142.54 L478.6,142.51 L479.1,142.57 L479.6,142.48 L480.1,142.57 L480.6,142.67 L481.1,142.60 L481.6,142.67 L482.1,142.96 L482.6,142.83 L483.1,142.79 L483.6,142.81 L484.1,143.04 L484.6,142.76 L485.1,142.99 L485.6,143.10 L486.1,143.05 L486.6,143.18 L487.1,143.10 L487.6,143.22 L488.1,143.27 L488.6,143.31 L489.1,143.36 L489.6,143.40 L490.1,143.52 L490.6,143.46 L491.1,143.48 L491.6,143.54 L492.1,143.58 L492.6,143.53 L493.1,143.54 L493.6,143.62 L494.1,143.79 L494.6,143.75 L495.1,143.81 L495.6,144.11 L496.1,144.02 L496.6,143.97 L497.1,143.99 L497.6,144.19 L498.1,144.07 L498.6,144.26 L499.1,144.24 L499.6,144.32 L500.1,144.16 L500.6,144.25 L501.1,143.97 L501.6,143.98 L502.1,143.95 L502.6,143.78 L503.1,143.45 L503.6,143.53 L504.1,143.41 L504.6,143.31 L505.1,143.24 L505.6,143.28 L506.1,143.25 L506.6,143.37 L507.1,143.34 L507.6,143.39 L508.1,143.36 L508.6,143.21 L509.1,143.33 L509.6,143.50 L510.1,143.26 L510.6,143.38 L511.1,143.32 L511.6,143.33 L512.1,143.44 L512.6,143.52 L513.1,143.54 L513.6,143.56 L514.1,143.64 L514.6,143.48 L515.1,143.72 L515.6,143.75 L516.1,143.77 L516.5,143.85" stroke="#0c0c0c" stroke-width="1.38"/>
<path d="M58.0,225.15 L59.0,224.21 L60.0,225.03 L61.0,224.68 L62.0,224.71 L63.0,224.86 L64.0,224.48 L65.0,225.24 L66.0,225.20 L67.0,226.59 L68.0,225.74 L69.0,225.66 L70.0,225.76 L71.0,225.70 L72.0,225.60 L73.0,225.72 L74.0,225.80 L75.0,225.40 L76.0,225.68 L77.0,225.34 L78.0,225.44 L79.0,225.96 L80.0,225.71 L81.0,225.43 L82.0,225.56 L83.0,225.80 L84.0,226.23 L85.0,225.56 L86.0,225.58 L87.0,225.97 L88.0,225.40 L89.0,225.59 L90.0,225.96 L91.0,225.89 L92.0,225.77 L93.0,225.99 L94.0,224.95 L95.0,226.17 L96.0,225.60 L97.0,225.41 L98.0,226.03 L99.0,226.18 L100.0,225.85 L100.7,226.00 L100.7,226.00 L101.7,205.81 L102.7,191.63 L103.7,182.08 L104.7,172.91 L105.7,163.64 L106.7,158.05 L107.7,153.37 L108.7,148.42 L109.7,143.39 L110.7,138.88 L111.7,134.82 L112.7,131.17 L113.7,127.05 L114.7,123.86 L115.7,120.51 L116.7,117.32 L117.7,114.90 L118.7,112.29 L119.7,110.22 L120.7,107.63 L121.7,105.65 L122.7,103.81 L123.7,101.88 L124.7,99.50 L125.7,97.87 L126.7,96.21 L127.7,94.38 L128.7,93.07 L129.7,91.15 L130.7,89.88 L131.7,88.25 L132.7,87.21 L133.7,85.68 L134.7,84.34 L135.7,82.91 L136.7,82.17 L137.7,80.87 L138.7,79.72 L139.7,78.67 L140.7,77.48 L141.7,76.30 L142.7,75.26 L143.7,74.27 L144.7,73.60 L145.7,72.27 L146.7,71.48 L147.7,70.62 L148.7,69.83 L149.7,69.03 L150.7,67.94 L151.7,67.07 L152.7,66.51 L153.7,65.91 L154.7,65.09 L155.7,64.28 L156.7,63.49 L157.7,62.88 L158.7,62.12 L159.7,61.61 L160.7,60.74 L161.7,60.24 L162.7,59.59 L163.7,59.08 L164.7,58.44 L165.7,58.18 L166.7,57.45 L167.7,56.88 L168.7,55.83 L169.7,55.52 L170.7,54.94 L171.7,54.56 L172.7,53.65 L173.7,53.61 L174.7,53.07 L175.7,52.23 L176.7,51.76 L177.7,51.27 L178.7,50.88 L179.7,50.45 L180.7,50.14 L181.7,49.32 L182.7,48.96 L183.7,48.38 L184.7,48.11 L185.7,47.50 L186.7,47.11 L187.7,46.31 L188.7,45.98 L189.7,45.45 L190.7,45.32 L191.7,44.77 L192.7,44.20 L193.7,43.75 L194.7,43.45 L195.7,42.86 L196.7,42.41 L197.7,42.19 L198.7,42.04 L199.7,41.25 L200.7,40.78 L201.7,40.28 L202.7,39.83 L203.7,39.67 L204.7,39.30 L205.7,38.76 L206.7,38.39 L207.7,37.94 L208.7,37.53 L209.7,36.88 L210.7,36.61 L211.7,36.28 L212.7,35.75 L213.7,35.38 L214.7,34.93 L215.7,34.59 L216.7,34.36 L217.7,33.79 L218.7,33.43 L219.7,33.18 L220.7,32.77 L221.7,32.53 L222.7,31.63 L223.7,31.67 L224.7,31.12 L225.7,30.84 L226.7,30.58 L227.7,30.25 L228.7,29.89 L229.7,29.41 L230.7,29.26 L231.7,28.65 L232.7,28.32 L233.7,28.10 L234.7,27.57 L235.7,27.61 L236.7,27.11 L237.7,26.94 L238.7,26.30 L239.7,25.92 L240.7,25.68 L241.7,25.44 L242.7,24.94 L243.7,24.76 L244.7,24.40 L245.7,24.32 L246.7,23.71 L247.7,23.65 L248.7,23.12 L249.7,22.80 L250.7,22.55 L251.7,22.21 L252.7,22.13 L253.7,21.99 L254.7,21.60 L255.7,21.41 L256.7,21.30 L257.7,20.86 L258.7,20.60 L259.7,20.29 L260.7,19.86 L261.7,19.95 L262.7,19.36 L263.7,19.46 L264.7,19.13 L265.7,19.06 L266.7,18.66 L267.7,18.33 L268.7,18.26 L269.7,17.90 L270.7,17.73 L271.7,17.53 L272.7,17.28 L273.7,17.04 L274.7,16.72 L275.7,16.58 L276.7,16.08 L277.7,16.12 L278.7,15.74 L279.7,15.83 L280.7,15.61 L281.7,14.93 L282.7,14.99 L283.7,14.72 L284.7,14.36 L285.7,14.34 L286.7,13.98 L287.7,13.57 L288.7,13.55 L289.7,13.35 L290.7,13.16 L291.7,12.76 L292.7,12.80 L293.7,12.61 L294.7,12.15 L295.7,12.01 L296.7,11.90 L297.7,11.64 L298.7,11.78 L299.7,11.39 L300.7,11.05 L301.7,10.91 L302.7,10.84 L303.7,11.00 L304.7,10.49 L305.7,10.37 L306.7,10.27 L307.7,10.04 L308.7,10.21 L309.7,9.67 L310.7,9.70 L311.7,9.48 L312.7,9.41 L313.7,9.03 L314.7,9.31 L315.7,8.93 L316.7,8.84 L317.7,8.59 L318.7,8.52 L319.7,8.60 L320.7,8.57 L321.7,8.45 L322.7,8.43 L323.7,8.28 L324.7,8.11 L325.7,8.15 L326.7,8.04 L327.7,7.86 L328.7,7.90 L329.7,7.90 L330.7,7.67 L331.7,7.50 L332.7,7.57 L333.7,7.65 L334.7,7.27 L335.7,7.21 L336.5,7.15 L337.2,7.15 L337.6,36.54 L338.0,36.54 L339.0,36.34 L340.0,36.64 L341.0,37.25 L342.0,38.67 L343.0,40.56 L344.0,41.60 L345.0,42.54 L346.0,43.60 L347.0,44.28 L348.0,45.21 L349.0,46.26 L350.0,46.69 L351.0,47.71 L352.0,48.17 L353.0,48.94 L354.0,49.45 L355.0,49.78 L356.0,50.54 L357.0,51.19 L358.0,51.57 L359.0,52.07 L360.0,52.78 L361.0,53.16 L362.0,53.52 L363.0,54.11 L364.0,54.74 L365.0,55.03 L366.0,55.62 L367.0,56.10 L368.0,56.33 L369.0,56.58 L370.0,56.93 L371.0,57.43 L372.0,57.87 L373.0,58.12 L374.0,58.47 L375.0,58.65 L376.0,59.03 L377.0,59.23 L378.0,59.52 L379.0,59.69 L380.0,59.94 L381.0,60.34 L382.0,60.54 L383.0,60.83 L384.0,61.29 L385.0,61.47 L386.0,62.08 L387.0,62.12 L388.0,62.20 L389.0,62.62 L390.0,62.82 L391.0,62.94 L392.0,63.39 L393.0,63.41 L394.0,63.38 L395.0,64.05 L396.0,64.11 L397.0,64.56 L398.0,64.52 L399.0,64.65 L400.0,65.16 L401.0,65.04 L402.0,65.37 L403.0,65.69 L404.0,65.71 L405.0,65.86 L406.0,66.05 L407.0,66.30 L408.0,66.26 L409.0,66.59 L410.0,66.74 L411.0,67.09 L412.0,66.94 L413.0,67.02 L414.0,67.36 L415.0,67.38 L416.0,67.61 L417.0,67.74 L418.0,68.01 L419.0,67.95 L420.0,68.16 L421.0,68.02 L422.0,68.36 L423.0,68.78 L424.0,68.67 L425.0,68.81 L426.0,68.88 L427.0,69.23 L428.0,69.32 L429.0,69.30 L430.0,69.65 L431.0,69.74 L432.0,69.93 L433.0,69.91 L434.0,70.32 L435.0,70.30 L436.0,70.37 L437.0,70.46 L438.0,70.63 L439.0,70.90 L440.0,70.91 L441.0,71.21 L442.0,71.29 L443.0,71.53 L444.0,71.61 L445.0,71.65 L446.0,71.58 L447.0,71.98 L448.0,72.18 L449.0,72.24 L450.0,72.43 L451.0,72.45 L452.0,72.59 L453.0,72.66 L454.0,73.06 L455.0,73.05 L456.0,73.10 L457.0,73.12 L458.0,73.38 L459.0,73.67 L460.0,73.67 L461.0,73.63 L462.0,73.97 L463.0,74.06 L464.0,74.08 L465.0,74.13 L466.0,74.24 L467.0,74.24 L468.0,74.33 L469.0,74.21 L470.0,74.53 L471.0,74.45 L472.0,74.73 L473.0,74.33 L474.0,74.72 L475.0,74.84 L476.0,74.78 L477.0,74.97 L478.0,75.12 L479.0,75.22 L480.0,75.23 L481.0,75.42 L482.0,75.74 L483.0,76.11 L484.0,76.41 L485.0,76.87 L486.0,77.25 L487.0,77.67 L488.0,77.73 L489.0,77.95 L490.0,78.25 L491.0,78.16 L492.0,78.26 L493.0,78.37 L494.0,78.43 L495.0,78.26 L496.0,78.40 L497.0,77.93 L498.0,77.96 L499.0,77.47 L500.0,77.31 L501.0,77.38 L502.0,77.09 L503.0,76.90 L504.0,76.84 L505.0,76.90 L506.0,76.88 L507.0,76.97 L508.0,77.23 L509.0,77.17 L510.0,77.33 L511.0,77.45 L512.0,77.78 L513.0,77.89 L514.0,78.07 L515.0,78.07 L515.5,78.15" stroke="#080808" stroke-width="3.23"/>
</g>
<rect x="32" y="370.3" width="469.2" height="41.3" fill="none" stroke="#8a8a8a" stroke-width="1.2"/>
<line x1="40.2" y1="384.3" x2="80.1" y2="384.3" stroke="#080808" stroke-width="3.5" stroke-linecap="round"/>
<line x1="132.5" y1="384.3" x2="171.3" y2="384.3" stroke="#8a8a8a" stroke-width="1.9"/>
<line x1="224.3" y1="384.3" x2="264.6" y2="384.3" stroke="#262626" stroke-width="2"/>
<path d="M317.0,383.3 L317.9,385.3 L318.8,383.3 L319.7,385.3 L320.6,383.3 L321.5,385.3 L322.4,383.3 L323.3,385.3 L324.2,383.3 L325.1,385.3 L326.0,383.3 L326.9,385.3 L327.8,383.3 L328.7,385.3 L329.6,383.3 L330.5,385.3 L331.4,383.3 L332.3,385.3 L333.2,383.3 L334.1,385.3 L335.0,383.3 L335.9,385.3 L336.8,383.3 L337.7,385.3 L338.6,383.3 L339.5,385.3 L340.4,383.3 L341.3,385.3 L342.2,383.3 L343.1,385.3 L344.0,383.3 L344.9,385.3 L345.8,383.3 L346.7,385.3 L347.6,383.3 L348.5,385.3 L349.4,383.3 L350.3,385.3 L351.2,383.3 L352.1,385.3 L353.0,383.3 L353.9,385.3 L354.8,383.3 L355.7,385.3 L356.6,383.3" fill="none" stroke="#8c8c8c" stroke-width="0.9"/>
<line x1="410" y1="384.3" x2="450.6" y2="384.3" stroke="#0c0c0c" stroke-width="1.5"/>
<g font-size="10.5" fill="#0c0c0c" stroke="#0c0c0c" stroke-width="0.4">
<text x="85.5" y="388.4">FAchR</text>
<text x="178.0" y="388.8">10mM</text>
<text x="178.0" y="401.3">Nicotine</text>
<text x="270.5" y="388.8">5mM</text>
<text x="270.5" y="401.3">Nicotine</text>
<text x="362.8" y="388.8">2.5 mM</text>
<text x="362.8" y="401.3">Nicotine</text>
<text x="456.0" y="388.8">1.2mM</text>
<text x="456.0" y="401.3">Nicotine</text>
</g>
</svg>
</body></html>
